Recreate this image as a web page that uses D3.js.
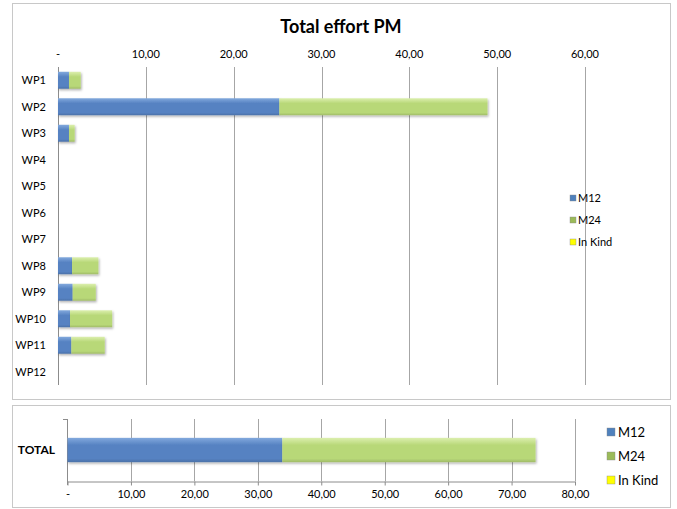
<!DOCTYPE html>
<html>
<head>
<meta charset="utf-8">
<script src="https://cdn.jsdelivr.net/npm/d3@7"></script>
<style>
  body { margin: 0; background: #fff; }
  text { font-family: "Lato", "Open Sans", sans-serif; fill: #000; }
</style>
</head>
<body>
<svg id="chart" width="677" height="509"></svg>
<script>
const categories = ["WP1", "WP2", "WP3", "WP4", "WP5", "WP6", "WP7", "WP8", "WP9", "WP10", "WP11", "WP12"];
const m12 = [1.25, 25.2, 1.25, 0, 0, 0, 0, 1.6, 1.67, 1.37, 1.52, 0];
const m24 = [1.34, 23.7, 0.65, 0, 0, 0, 0, 3.0, 2.63, 4.8, 3.8, 0];
const inKind = [0, 0, 0, 0, 0, 0, 0, 0, 0, 0, 0, 0];
const seriesNames = ["M12", "M24", "In Kind"];
const topTicks = [0, 10, 20, 30, 40, 50, 60];
const bottomTicks = [0, 10, 20, 30, 40, 50, 60, 70, 80];

const colors = { "M12": ["#82a9dd", "#5682c2"], "M24": ["#dcefae", "#b8d878"], "In Kind": ["#ffff80", "#f0e000"] };
const legendColors = { "M12": "#4f81bd", "M24": "#9bbb59", "In Kind": "#ffff00" };

const fmt = v => v === 0 ? "-" : d3.format(".2f")(v).replace(".", ",");

const rows = categories.map((c, i) => ({ cat: c, "M12": m12[i], "M24": m24[i], "In Kind": inKind[i] }));
const totalRow = [{ cat: "TOTAL", "M12": d3.sum(m12), "M24": d3.sum(m24), "In Kind": d3.sum(inKind) }];

const svg = d3.select("#chart");
const defs = svg.append("defs");

seriesNames.forEach((s, i) => {
  const g = defs.append("linearGradient")
    .attr("id", "grad" + i)
    .attr("x1", 0).attr("y1", 0).attr("x2", 0).attr("y2", 1);
  g.append("stop").attr("offset", "0%").attr("stop-color", colors[s][0]);
  g.append("stop").attr("offset", "30%").attr("stop-color", colors[s][1]);
  g.append("stop").attr("offset", "85%").attr("stop-color", colors[s][1]);
  g.append("stop").attr("offset", "100%").attr("stop-color", d3.color(colors[s][1]).darker(0.4));
});

const shadow = defs.append("filter").attr("id", "shadow")
  .attr("x", "-5%").attr("y", "-10%").attr("width", "115%").attr("height", "140%");
shadow.append("feDropShadow")
  .attr("dx", 1).attr("dy", 1.5).attr("stdDeviation", 1)
  .attr("flood-color", "#000").attr("flood-opacity", 0.3);

// frames
svg.append("rect").attr("x", 12.5).attr("y", 3.5).attr("width", 658).attr("height", 396)
  .attr("fill", "#fff").attr("stroke", "#c8c8c8");
svg.append("rect").attr("x", 12.5).attr("y", 405.5).attr("width", 658).attr("height", 102)
  .attr("fill", "#fff").attr("stroke", "#c8c8c8");

const stack = d3.stack().keys(seriesNames);

// ---- top chart ----
const xTop = d3.scaleLinear().domain([0, 60]).range([58, 585]);
const yTop = d3.scaleBand().domain(categories).range([67, 385]).paddingInner(0.36).paddingOuter(0.18);

svg.append("text")
  .attr("x", 341).attr("y", 33)
  .attr("text-anchor", "middle")
  .attr("font-size", 18).attr("font-weight", "bold")
  .text("Total effort PM");

const topG = svg.append("g");

topG.selectAll("line.grid")
  .data(topTicks.slice(1))
  .join("line")
  .attr("class", "grid")
  .attr("x1", d => Math.round(xTop(d)) + 0.5).attr("x2", d => Math.round(xTop(d)) + 0.5)
  .attr("y1", 67).attr("y2", 385)
  .attr("stroke", "#a6a6a6");

topG.append("line")
  .attr("x1", 58.5).attr("x2", 58.5).attr("y1", 67).attr("y2", 385)
  .attr("stroke", "#8c8c8c");

topG.selectAll("text.tick")
  .data(topTicks)
  .join("text")
  .attr("class", "tick")
  .attr("x", d => xTop(d)).attr("y", 58)
  .attr("text-anchor", "middle")
  .attr("font-size", 11)
  .text(fmt);

topG.selectAll("text.cat")
  .data(categories)
  .join("text")
  .attr("class", "cat")
  .attr("x", 46).attr("y", d => yTop(d) + yTop.bandwidth() / 2 + 4)
  .attr("text-anchor", "end")
  .attr("font-size", 11)
  .text(d => d);

topG.selectAll("g.series")
  .data(stack(rows))
  .join("g")
  .attr("class", "series")
  .attr("fill", (d, i) => "url(#grad" + i + ")")
  .attr("filter", "url(#shadow)")
  .selectAll("rect")
  .data(d => d.filter(p => p[1] > p[0]))
  .join("rect")
  .attr("x", d => xTop(d[0]))
  .attr("y", d => yTop(d.data.cat))
  .attr("width", d => xTop(d[1]) - xTop(d[0]))
  .attr("height", yTop.bandwidth());

const legTop = svg.append("g");
seriesNames.forEach((s, i) => {
  legTop.append("rect")
    .attr("x", 570).attr("y", 195 + i * 22).attr("width", 6).attr("height", 6)
    .attr("fill", legendColors[s]).attr("stroke", "#888").attr("stroke-width", 0.4);
  legTop.append("text")
    .attr("x", 578).attr("y", 202 + i * 22)
    .attr("font-size", 11)
    .text(s);
});

// ---- bottom chart ----
const xBot = d3.scaleLinear().domain([0, 80]).range([67.5, 575]);
const yBot = d3.scaleBand().domain(["TOTAL"]).range([419, 481]).paddingInner(0.6).paddingOuter(0.31);

const botG = svg.append("g");

botG.selectAll("line.grid")
  .data(bottomTicks.slice(1))
  .join("line")
  .attr("class", "grid")
  .attr("x1", d => Math.round(xBot(d)) + 0.5).attr("x2", d => Math.round(xBot(d)) + 0.5)
  .attr("y1", 419).attr("y2", 481)
  .attr("stroke", "#a6a6a6");

botG.append("g")
  .attr("transform", "translate(0,481.5)")
  .call(d3.axisBottom(xBot).tickValues(bottomTicks).tickSize(4).tickFormat(fmt).tickSizeOuter(0))
  .call(g => g.select(".domain").attr("stroke", "#8c8c8c"))
  .call(g => g.selectAll(".tick line").attr("stroke", "#8c8c8c"))
  .call(g => g.selectAll(".tick text").attr("font-size", 11).attr("font-family", null).attr("dy", "0.95em").attr("y", 6));

botG.append("line")
  .attr("x1", 67.5).attr("x2", 67.5).attr("y1", 419).attr("y2", 485)
  .attr("stroke", "#8c8c8c");
botG.append("line")
  .attr("x1", 63).attr("x2", 67.5).attr("y1", 419.5).attr("y2", 419.5)
  .attr("stroke", "#8c8c8c");

botG.append("text")
  .attr("x", 55).attr("y", yBot("TOTAL") + yBot.bandwidth() / 2 + 4)
  .attr("text-anchor", "end")
  .attr("font-size", 12).attr("font-weight", "bold")
  .text("TOTAL");

botG.selectAll("g.series")
  .data(stack(totalRow))
  .join("g")
  .attr("class", "series")
  .attr("fill", (d, i) => "url(#grad" + i + ")")
  .attr("filter", "url(#shadow)")
  .selectAll("rect")
  .data(d => d.filter(p => p[1] > p[0]))
  .join("rect")
  .attr("x", d => xBot(d[0]))
  .attr("y", d => yBot(d.data.cat))
  .attr("width", d => xBot(d[1]) - xBot(d[0]))
  .attr("height", yBot.bandwidth());

const legBot = svg.append("g");
seriesNames.forEach((s, i) => {
  legBot.append("rect")
    .attr("x", 607).attr("y", 428 + i * 24).attr("width", 8).attr("height", 8)
    .attr("fill", legendColors[s]).attr("stroke", "#888").attr("stroke-width", 0.4);
  legBot.append("text")
    .attr("x", 618).attr("y", 437 + i * 24)
    .attr("font-size", 13)
    .text(s);
});
</script>
</body>
</html>
